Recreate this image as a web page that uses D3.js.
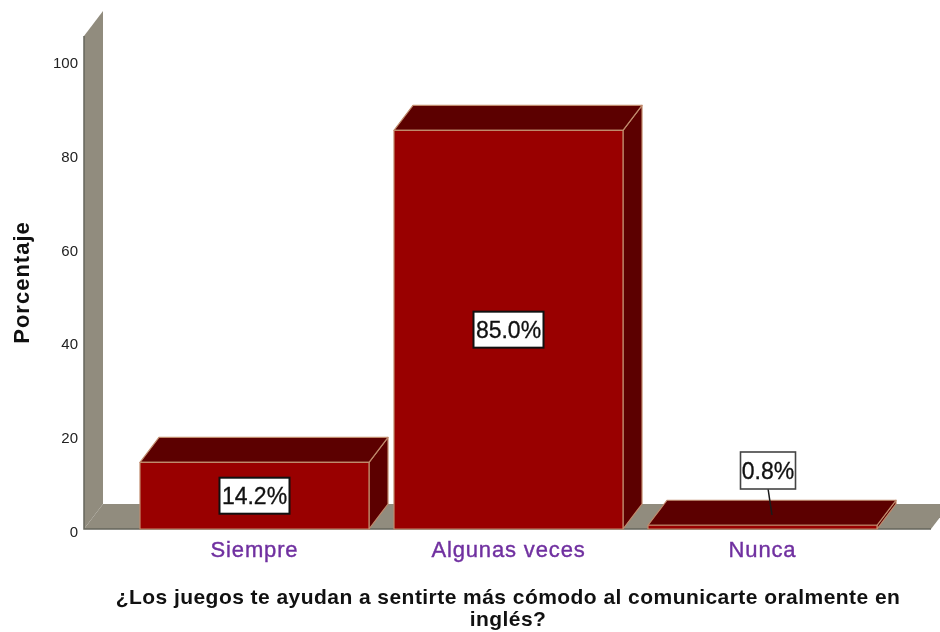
<!DOCTYPE html>
<html><head><meta charset="utf-8">
<script src="https://cdn.jsdelivr.net/npm/d3@7/dist/d3.min.js"></script>
<style>
html,body{margin:0;padding:0;background:#fff}
svg{display:block;filter:blur(0.45px)}
text{font-family:"Liberation Sans",Arial,sans-serif}
.tick line,.domain{display:none}
</style></head><body>
<div id="chart"></div>
<script>
const categories = ["Siempre","Algunas veces","Nunca"];
const values = [14.2,85.0,0.8];
const valueLabels = ["14.2%","85.0%","0.8%"];
const yTicks = [0,20,40,60,80,100];
const titleLines = ["¿Los juegos te ayudan a sentirte más cómodo al comunicarte oralmente en","inglés?"];
const yLabel = "Porcentaje";

const W=940,H=632, depthX=19, depthY=25;
const y=d3.scaleLinear().domain([0,100]).range([529,60]);
const x=d3.scaleBand().domain(categories).range([127.5,889.5]).paddingInner(25/254).paddingOuter(12.5/254);
const svg=d3.select("#chart").append("svg").attr("width",W).attr("height",H);
const WALL="#918c7e",DARK="#66665c",FRONT="#990000",SIDE="#5c0000",EDGE="#c08a6c";
const pts=a=>a.map(p=>p.join(",")).join(" ");
const L=84,Rt=931,y0=y(0);
const wallTop=y(100)-24;

// wall and floor
svg.append("polygon").attr("fill",WALL)
  .attr("points",pts([[L,wallTop],[L+depthX,wallTop-depthY],[L+depthX,y0-depthY],[L,y0]]));
svg.append("polygon").attr("fill",WALL)
  .attr("points",pts([[L,y0],[L+depthX,y0-depthY],[Rt+depthX,y0-depthY],[Rt,y0]]));
svg.append("path").attr("fill","none").attr("stroke",DARK).attr("stroke-width",1.5)
  .attr("d",`M${L},${wallTop}V${y0}H${Rt}`);

// bars
const g=svg.selectAll("g.bar").data(categories.map((c,i)=>({c,v:values[i],l:valueLabels[i]}))).join("g").attr("class","bar");
g.each(function(d){
  const s=d3.select(this),x0=x(d.c),x1=x0+x.bandwidth(),t=y(d.v);
  const e=sel=>sel.attr("stroke",EDGE).attr("stroke-width",1.2).attr("stroke-linejoin","round");
  e(s.append("polygon").attr("fill",SIDE).attr("points",pts([[x1,t],[x1+depthX,t-depthY],[x1+depthX,y0-depthY],[x1,y0]])));
  e(s.append("polygon").attr("fill",SIDE).attr("points",pts([[x0,t],[x0+depthX,t-depthY],[x1+depthX,t-depthY],[x1,t]])));
  e(s.append("rect").attr("fill",FRONT).attr("x",x0).attr("y",t).attr("width",x.bandwidth()).attr("height",y0-t));
});

// value labels
g.each(function(d){
  const s=d3.select(this),outside=d.v<5;
  const cx=x(d.c)+x.bandwidth()/2+(outside?5.5:0);
  const cy=outside?470.5:(y(d.v)+y0)/2;
  if(outside){
    s.append("line").attr("x1",cx).attr("y1",cy+18).attr("x2",cx+4).attr("y2",y0-14).attr("stroke","#1a1a1a").attr("stroke-width",1.5);
  }
  const bw=d.l.length>4?70:55,bh=outside?37:36;
  s.append("rect").attr("x",cx-bw/2).attr("y",cy-bh/2).attr("width",bw).attr("height",bh)
    .attr("fill","#fff").attr("stroke",outside?"#444":"#111").attr("stroke-width",outside?1.6:2);
  s.append("text").attr("x",cx).attr("y",cy+8).attr("text-anchor","middle")
    .attr("font-size",23).attr("fill","#111").attr("stroke","#111").attr("stroke-width",0.3).text(d.l);
});

// axes
const ya=svg.append("g").attr("transform",`translate(${L},0)`)
  .call(d3.axisLeft(y).tickValues(yTicks).tickSize(0).tickPadding(6));
ya.selectAll("text").attr("font-size",15).attr("fill","#222").style("font-family",'"Liberation Sans",Arial,sans-serif').attr("dy","0.5em");
const xa=svg.append("g").attr("transform",`translate(0,${y0})`)
  .call(d3.axisBottom(x).tickSize(0).tickPadding(12));
xa.selectAll("text").attr("font-size",22).attr("fill","#7030a0").attr("stroke","#7030a0").attr("stroke-width",0.4)
  .style("letter-spacing","0.85px").style("font-family",'"Liberation Sans",Arial,sans-serif');

// titles
svg.append("text").attr("transform","translate(29,282.5) rotate(-90)").attr("text-anchor","middle")
  .attr("font-size",22).attr("font-weight","bold").attr("fill","#111").style("letter-spacing","1px").text(yLabel);
svg.selectAll("text.t").data(titleLines).join("text").attr("class","t")
  .attr("x",508).attr("y",(d,i)=>604+i*22).attr("text-anchor","middle")
  .attr("font-size",21).attr("font-weight","bold").attr("fill","#111").style("letter-spacing","0.45px").text(d=>d);
</script></body></html>
